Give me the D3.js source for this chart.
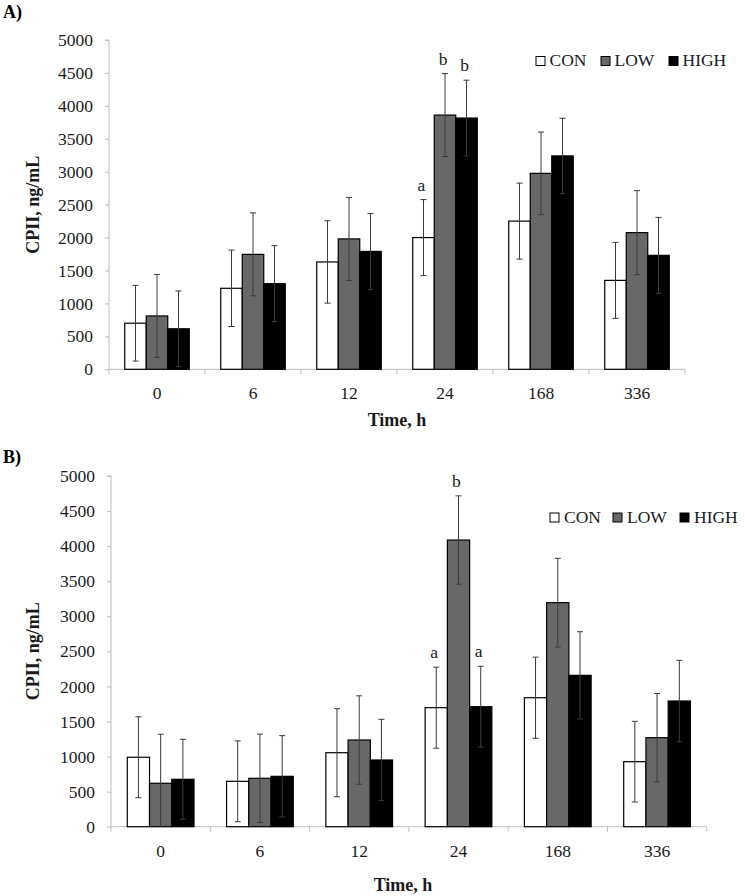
<!DOCTYPE html>
<html>
<head>
<meta charset="utf-8">
<script src="https://cdn.jsdelivr.net/npm/d3@7"></script>
<style>
  html, body { margin: 0; padding: 0; background: #fff; }
  svg { display: block; font-family: "Liberation Serif", "Times New Roman", serif; }
</style>
</head>
<body>
<svg id="chart" width="745" height="896"></svg>
<script>
// ---------- data ----------
const categories = ["0", "6", "12", "24", "168", "336"];
const seriesNames = ["CON", "LOW", "HIGH"];
const yTicks = [0, 500, 1000, 1500, 2000, 2500, 3000, 3500, 4000, 4500, 5000];

// Panel A
const aCON  = [700, 1230, 1630, 2000, 2250, 1350];
const aLOW  = [810, 1745, 1980, 3860, 2975, 2075];
const aHIGH = [615, 1300, 1790, 3815, 3240, 1730];
const aErrCON  = [575, 580, 625, 577, 577, 577];
const aErrLOW  = [630, 630, 630, 630, 627, 638];
const aErrHIGH = [575, 577, 577, 575, 572, 577];
const aLetters = [
  { cat: "24", series: 0, text: "a" },
  { cat: "24", series: 1, text: "b" },
  { cat: "24", series: 2, text: "b" }
];

// Panel B
const bCON  = [990, 647, 1055, 1697, 1839, 927];
const bLOW  = [619, 690, 1236, 4087, 3194, 1269];
const bHIGH = [676, 718, 951, 1711, 2158, 1792];
const bErrCON  = [577, 576, 628, 578, 578, 575];
const bErrLOW  = [700, 630, 630, 630, 632, 630];
const bErrHIGH = [570, 580, 580, 576, 622, 580];
const bLetters = [
  { cat: "24", series: 0, text: "a" },
  { cat: "24", series: 1, text: "b" },
  { cat: "24", series: 2, text: "a" }
];

// ---------- styles ----------
const fills = ["#ffffff", "#686868", "#000000"];
const axisColor = "#bdbdbd";
const textColor = "#1a1a1a";
const errColor = "#3a3a3a";

const svg = d3.select("#chart");
svg.append("rect").attr("width", 745).attr("height", 896).attr("fill", "#fff");

function drawPanel(cfg) {
  const g = svg.append("g");
  const x0 = d3.scaleBand().domain(categories).range([cfg.left, cfg.right]).padding(0);
  const step = x0.bandwidth();
  const barW = step * 0.224;
  const x1 = d3.scaleBand().domain(d3.range(seriesNames.length))
    .range([(step - 3 * barW) / 2, (step + 3 * barW) / 2]).padding(0);
  const y = d3.scaleLinear().domain([0, 5000]).range([cfg.bottom, cfg.top]);

  // y axis
  const yAxis = d3.axisLeft(y).tickValues(yTicks).tickSize(4).tickPadding(12).tickFormat(d3.format("d"));
  const ya = g.append("g").attr("transform", `translate(${cfg.left},0)`).call(yAxis);
  ya.select(".domain").attr("stroke", axisColor).attr("d", `M-4,${y(5000)}H0V${y(0)}`);
  ya.selectAll(".tick line").attr("stroke", axisColor);
  ya.selectAll(".tick text").attr("fill", textColor).attr("font-size", 17.5)
    .attr("font-family", "Liberation Serif");

  // x axis
  const xa = g.append("g").attr("transform", `translate(0,${cfg.bottom})`);
  xa.append("line").attr("x1", cfg.left).attr("x2", cfg.right).attr("stroke", axisColor);
  xa.selectAll("line.tk").data(d3.range(categories.length + 1)).join("line")
    .attr("class", "tk")
    .attr("x1", i => cfg.left + i * step).attr("x2", i => cfg.left + i * step)
    .attr("y1", 0).attr("y2", 5).attr("stroke", axisColor);
  xa.selectAll("text").data(categories).join("text")
    .attr("x", d => x0(d) + step / 2).attr("y", cfg.tickLabelDy)
    .attr("text-anchor", "middle").attr("font-size", 17.5).attr("fill", textColor).text(d => d);

  // bars
  const groups = g.selectAll("g.grp").data(categories).join("g")
    .attr("class", "grp").attr("transform", d => `translate(${x0(d)},0)`);
  groups.each(function (cat, ci) {
    const gg = d3.select(this);
    cfg.values.forEach((vals, si) => {
      const v = vals[ci];
      gg.append("rect")
        .attr("x", x1(si)).attr("width", x1.bandwidth())
        .attr("y", y(v)).attr("height", y(0) - y(v))
        .attr("fill", fills[si]).attr("stroke", "#000").attr("stroke-width", 1.2);
    });
    cfg.values.forEach((vals, si) => {
      const v = vals[ci], e = cfg.errs[si][ci];
      const cx = x1(si) + x1.bandwidth() / 2;
      const hi = y(v + e), lo = y(Math.max(0, v - e));
      gg.append("line").attr("x1", cx).attr("x2", cx).attr("y1", hi).attr("y2", lo)
        .attr("stroke", errColor).attr("stroke-width", 1);
      gg.append("line").attr("x1", cx - 3).attr("x2", cx + 3).attr("y1", hi).attr("y2", hi)
        .attr("stroke", errColor).attr("stroke-width", 1);
      if (v - e > 0) {
        gg.append("line").attr("x1", cx - 3).attr("x2", cx + 3).attr("y1", lo).attr("y2", lo)
          .attr("stroke", errColor).attr("stroke-width", 1);
      }
    });
  });

  // significance letters
  cfg.letters.forEach(l => {
    const ci = categories.indexOf(l.cat);
    const v = cfg.values[l.series][ci], e = cfg.errs[l.series][ci];
    g.append("text")
      .attr("x", x0(l.cat) + x1(l.series) + x1.bandwidth() / 2 - 2)
      .attr("y", y(v + e) - 9)
      .attr("text-anchor", "middle").attr("font-size", 17.5).attr("fill", textColor)
      .text(l.text);
  });

  // legend
  seriesNames.forEach((name, si) => {
    const lx = cfg.legendX[si];
    g.append("rect").attr("x", lx).attr("y", cfg.legendY - 9.5).attr("width", 9).attr("height", 9)
      .attr("fill", fills[si]).attr("stroke", "#000").attr("stroke-width", 1);
    g.append("text").attr("x", lx + cfg.legendGap).attr("y", cfg.legendY)
      .attr("font-size", 17.5).attr("fill", textColor).text(name);
  });

  // axis titles
  g.append("text")
    .attr("transform", `translate(${cfg.yLabelX},${(cfg.top + cfg.bottom) / 2}) rotate(-90)`)
    .attr("text-anchor", "middle").attr("font-size", 18).attr("font-weight", "bold")
    .attr("fill", textColor).text("CPII, ng/mL");
  g.append("text")
    .attr("x", cfg.xTitleX).attr("y", cfg.xTitleY)
    .attr("text-anchor", "middle").attr("font-size", 18).attr("font-weight", "bold")
    .attr("fill", textColor).text("Time, h");

  // panel label
  g.append("text").attr("x", 3).attr("y", cfg.panelLabelY)
    .attr("font-size", 18).attr("font-weight", "bold").attr("fill", "#000").text(cfg.panelLabel);
}

drawPanel({
  left: 109, right: 685, top: 40, bottom: 369.3,
  values: [aCON, aLOW, aHIGH], errs: [aErrCON, aErrLOW, aErrHIGH], letters: aLetters,
  tickLabelDy: 30, xTitleX: 397, xTitleY: 426,
  legendX: [536, 601, 669], legendY: 66, legendGap: 13.5,
  yLabelX: 39, panelLabel: "A)", panelLabelY: 18
});

drawPanel({
  left: 111, right: 706.7, top: 476, bottom: 826.7,
  values: [bCON, bLOW, bHIGH], errs: [bErrCON, bErrLOW, bErrHIGH], letters: bLetters,
  tickLabelDy: 30, xTitleX: 403, xTitleY: 891,
  legendX: [550, 613, 680], legendY: 522.5, legendGap: 14,
  yLabelX: 39, panelLabel: "B)", panelLabelY: 463
});
</script>
</body>
</html>
